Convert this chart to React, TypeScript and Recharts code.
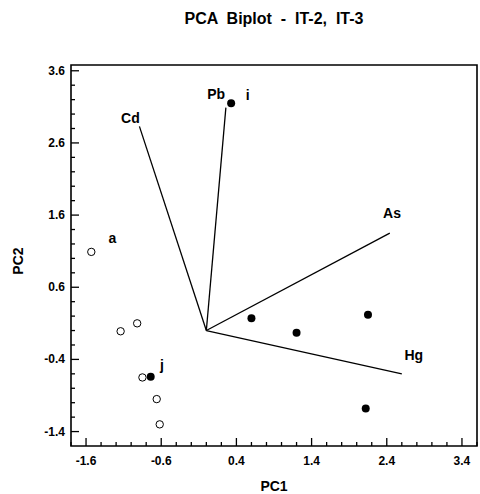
import React from 'react';
import { ScatterChart, Scatter, XAxis, YAxis, ReferenceLine, ReferenceArea } from 'recharts';

// scores for samples (open = IT-2, filled = IT-3)
const openPoints = [
  { x: -1.53, y: 1.09 },
  { x: -1.14, y: -0.01 },
  { x: -0.92, y: 0.1 },
  { x: -0.85, y: -0.65 },
  { x: -0.66, y: -0.95 },
  { x: -0.62, y: -1.3 },
];
const filledPoints = [
  { x: -0.74, y: -0.64 },
  { x: 0.33, y: 3.15 },
  { x: 0.6, y: 0.17 },
  { x: 1.2, y: -0.03 },
  { x: 2.15, y: 0.22 },
  { x: 2.12, y: -1.08 },
];

// loading vectors from the origin
const vectors = [
  { name: 'Cd', x: -0.89, y: 2.83 },
  { name: 'Pb', x: 0.26, y: 3.09 },
  { name: 'As', x: 2.44, y: 1.35 },
  { name: 'Hg', x: 2.6, y: -0.6 },
];

// text labels placed in data space
const pointLabels = [
  { x: -1.01, y: 2.95, text: 'Cd' },
  { x: 0.13, y: 3.28, text: 'Pb' },
  { x: 0.55, y: 3.27, text: 'i' },
  { x: -1.25, y: 1.28, text: 'a' },
  { x: 2.47, y: 1.63, text: 'As' },
  { x: 2.76, y: -0.34, text: 'Hg' },
  { x: -0.59, y: -0.48, text: 'j' },
];

const xMajorTicks = [-1.6, -0.6, 0.4, 1.4, 2.4, 3.4];
const yMajorTicks = [-1.4, -0.4, 0.6, 1.6, 2.6, 3.6];
const xDomain = [-1.8, 3.6];
const yDomain = [-1.6, 3.68];

const minorTicks = (lo: number, hi: number) => {
  const out: number[] = [];
  for (let i = 0; lo + 0.2 * i <= hi + 1e-9; i++) out.push(+(lo + 0.2 * i).toFixed(1));
  return out;
};
const xTicks = minorTicks(-1.8, 3.6);
const yTicks = minorTicks(-1.4, 3.6);

const FONT = '"Liberation Sans", Arial, sans-serif';

const XTick = (props: any) => {
  const { x, y, payload } = props;
  const major = xMajorTicks.includes(payload.value);
  return (
    <g>
      <line x1={x} x2={x} y1={y} y2={y - (major ? 8 : 4)} stroke="#000" strokeWidth={1.3} />
      {major && (
        <text x={x} y={y + 19} textAnchor="middle" fontFamily={FONT} fontWeight="bold" fontSize={12} fill="#000">
          {payload.value.toFixed(1)}
        </text>
      )}
    </g>
  );
};

const YTick = (props: any) => {
  const { x, y, payload } = props;
  const major = yMajorTicks.includes(payload.value);
  return (
    <g>
      <line x1={x} x2={x + (major ? 8 : 4)} y1={y} y2={y} stroke="#000" strokeWidth={1.3} />
      {major && (
        <text x={x - 6} y={y + 4} textAnchor="end" fontFamily={FONT} fontWeight="bold" fontSize={12} fill="#000">
          {payload.value.toFixed(1)}
        </text>
      )}
    </g>
  );
};

const LabelShape = (props: any) => (
  <text x={props.cx} y={props.cy} textAnchor="middle" dominantBaseline="central"
    fontFamily={FONT} fontWeight="bold" fontSize={14} fill="#000">
    {props.payload.text}
  </text>
);

const App: React.FC = () => {
  return (
    <div style={{ position: 'absolute', left: 0, top: 0, background: '#fff' }}>
      <ScatterChart width={480} height={494} margin={{ top: 65, right: 3, left: 0, bottom: 0 }}>
        <text x={274} y={24} textAnchor="middle" fontFamily={FONT} fontWeight="bold" fontSize={16} fill="#000"
          style={{ whiteSpace: 'pre' }}>
          PCA  Biplot  -  IT-2,  IT-3
        </text>
        <text x={274} y={491} textAnchor="middle" fontFamily={FONT} fontWeight="bold" fontSize={14} fill="#000">PC1</text>
        <text x={23} y={261} textAnchor="middle" fontFamily={FONT} fontWeight="bold" fontSize={14} fill="#000"
          transform="rotate(-90 23 261)">PC2</text>
        <XAxis type="number" dataKey="x" domain={xDomain} ticks={xTicks} interval={0} height={48}
          allowDataOverflow axisLine={false} tickLine={false} tickSize={0} tickMargin={0} tick={<XTick />} />
        <YAxis type="number" dataKey="y" domain={yDomain} ticks={yTicks} interval={0} width={71}
          allowDataOverflow axisLine={false} tickLine={false} tickSize={0} tickMargin={0} tick={<YTick />} />
        <ReferenceArea x1={xDomain[0]} x2={xDomain[1]} y1={yDomain[0]} y2={yDomain[1]}
          fill="none" stroke="#000" strokeWidth={1.6} />
        {vectors.map((v) => (
          <ReferenceLine key={v.name} segment={[{ x: 0, y: 0 }, { x: v.x, y: v.y }]} stroke="#000" strokeWidth={1.3} />
        ))}
        <Scatter data={openPoints} isAnimationActive={false} fill="#fff" stroke="#000" strokeWidth={1}
          shape={(p: any) => <circle cx={p.cx} cy={p.cy} r={3.7} fill="#fff" stroke="#000" strokeWidth={1} />} />
        <Scatter data={filledPoints} isAnimationActive={false} fill="#000"
          shape={(p: any) => <circle cx={p.cx} cy={p.cy} r={4} fill="#000" />} />
        <Scatter data={pointLabels} isAnimationActive={false} shape={<LabelShape />} />
      </ScatterChart>
    </div>
  );
};

export default App;
